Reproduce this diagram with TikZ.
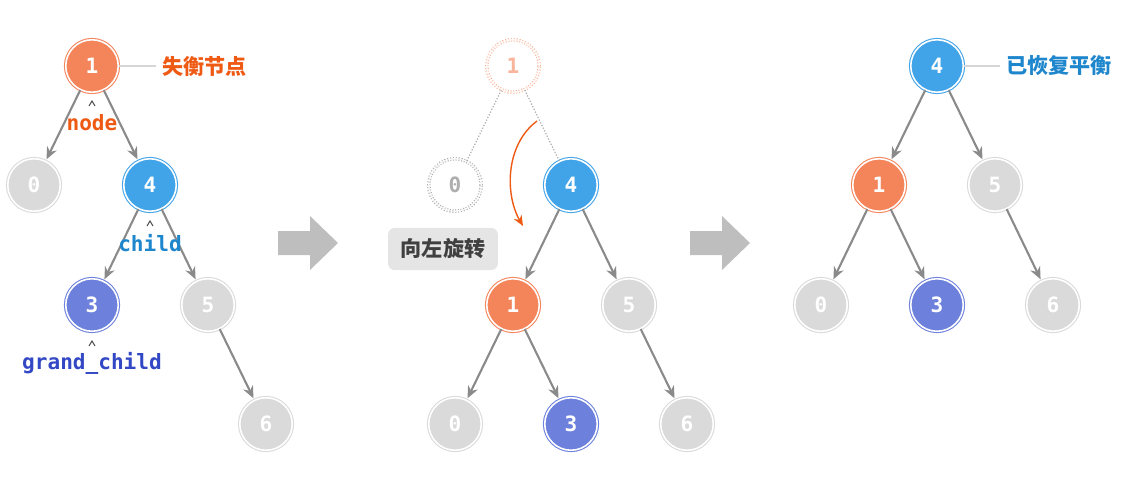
\documentclass[tikz,border=0pt]{standalone}
\usepackage{fontspec}
\setmonofont{DejaVu Sans Mono}
\newfontfamily\cjk{Noto Sans CJK SC}
\usetikzlibrary{arrows.meta,positioning}
\definecolor{orng}{HTML}{F4845A}
\definecolor{blu}{HTML}{42A4E8}
\definecolor{purp}{HTML}{6C80DC}
\definecolor{gry}{HTML}{DADADA}
\definecolor{bigarr}{HTML}{BEBEBE}
\definecolor{edg}{HTML}{8A8A8A}
\definecolor{redtxt}{HTML}{EE5A14}
\definecolor{blutxt}{HTML}{1E86CC}
\definecolor{purtxt}{HTML}{3348C4}
\begin{document}
\begin{tikzpicture}[x=0.02cm,y=-0.02cm,
  tnode/.style={circle, minimum size=1.05cm, inner sep=0pt, font=\ttfamily\bfseries\large, text=white,
    line width=0.6pt, double=white, double distance=0.9pt},
  onode/.style={tnode, fill=orng, draw=orng},
  bnode/.style={tnode, fill=blu, draw=blu},
  pnode/.style={tnode, fill=purp, draw=purp},
  gnode/.style={tnode, fill=gry, draw=gry},
  ghost/.style={circle, minimum size=1.05cm, inner sep=0pt, font=\ttfamily\bfseries\large, draw=#1, densely dotted, line width=0.6pt, double=white, double distance=0.8pt},
  edge/.style={draw=edg, line width=1.2pt, -{Stealth[length=7pt,width=6pt]}, shorten >=1pt},
  gedge/.style={draw=edg!70, densely dotted, line width=0.7pt},
  lbl/.style={font=\ttfamily\bfseries\large},
  caret/.style={draw=edg!60!black, line width=0.6pt},
  big/.style={fill=bigarr, draw=none}]
\useasboundingbox (0,0) rectangle (1122,483);

% left tree
\node (la) [onode] at (92,66) {1};
\node (lb) [gnode] at (34,185) {0};
\node (lc) [bnode] at (150,185) {4};
\node (ld) [pnode] at (92,305) {3};
\node (le) [gnode] at (208,305) {5};
\node (lf) [gnode] at (266,424) {6};
\draw[edge] (la) -- (lb);
\draw[edge] (la) -- (lc);
\draw[edge] (lc) -- (ld);
\draw[edge] (lc) -- (le);
\draw[edge] (le) -- (lf);
\node (lost) [font=\cjk\bfseries\large, text=redtxt, anchor=west] at (156,66) {失衡节点};
\draw[gry!70!black!40, line width=0.6pt] (la) -- (lost);
\node (nd) [lbl, text=redtxt] at (92,123) {node};
\node (ch) [lbl, text=blutxt] at (150,243) {child};
\node (gc) [lbl, text=purtxt] at (92,363) {grand\_child};
\draw[caret] (89,106) -- (92,101) -- (95,106);
\draw[caret] (147,226) -- (150,221) -- (153,226);
\draw[caret] (89,346) -- (92,341) -- (95,346);

% big arrows
\fill[big] (278,231) -- (310,231) -- (310,216) -- (338,243) -- (310,270) -- (310,255) -- (278,255) -- cycle;
\fill[big] (690,231) -- (722,231) -- (722,216) -- (750,243) -- (722,270) -- (722,255) -- (690,255) -- cycle;

% middle tree
\node (ma) [ghost=orng!60, text=orng!60] at (513,66) {1};
\node (mb) [ghost=edg!70, text=gry!80!black] at (455,185) {0};
\node (mc) [bnode] at (571,185) {4};
\node (md) [onode] at (513,305) {1};
\node (me) [gnode] at (629,305) {5};
\node (mf) [gnode] at (455,424) {0};
\node (mg) [pnode] at (571,424) {3};
\node (mh) [gnode] at (687,424) {6};
\draw[gedge] (ma) -- (mb);
\draw[gedge] (ma) -- (mc);
\draw[edge] (mc) -- (md);
\draw[edge] (mc) -- (me);
\draw[edge] (md) -- (mf);
\draw[edge] (md) -- (mg);
\draw[edge] (me) -- (mh);
\coordinate (rs) at (537,121);
\coordinate (re) at (523,226);
\draw[redtxt, line width=0.8pt, -{Stealth[length=6pt,width=5pt]}] (rs) .. controls (505,145) and (505,195) .. (re);
\node (rot) [font=\cjk\bfseries\large, text=black!75, fill=gry!70, rounded corners=4pt,
  minimum width=2.2cm, minimum height=0.85cm] at (443,249) {向左旋转};

% right tree
\node (ra) [bnode] at (937,66) {4};
\node (rb) [onode] at (879,185) {1};
\node (rc) [gnode] at (995,185) {5};
\node (rd) [gnode] at (821,305) {0};
\node (re2) [pnode] at (937,305) {3};
\node (rf) [gnode] at (1053,305) {6};
\draw[edge] (ra) -- (rb);
\draw[edge] (ra) -- (rc);
\draw[edge] (rb) -- (rd);
\draw[edge] (rb) -- (re2);
\draw[edge] (rc) -- (rf);
\node (fix) [font=\cjk\bfseries\large, text=blutxt, anchor=west] at (1000,66) {已恢复平衡};
\draw[gry!70!black!40, line width=0.6pt] (ra) -- (fix);
\end{tikzpicture}
\end{document}
